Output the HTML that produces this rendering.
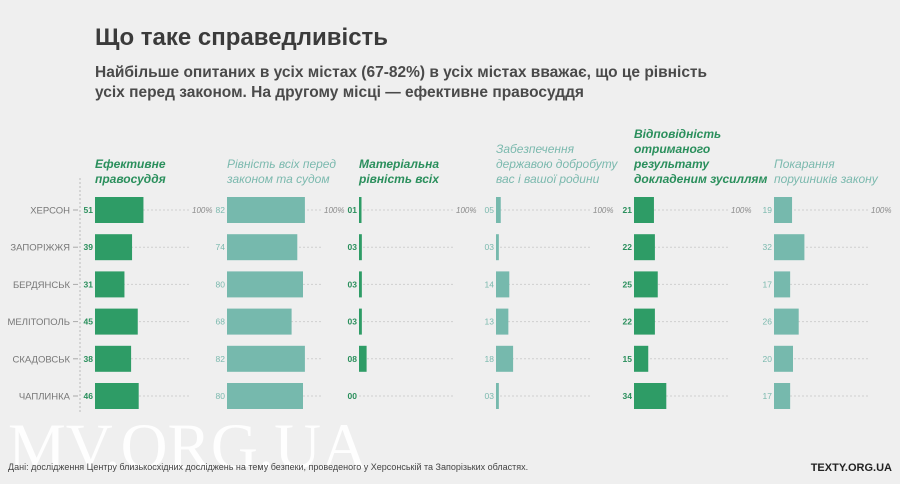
<!DOCTYPE html>
<html><head><meta charset="utf-8"><style>
body{margin:0;background:#efefef;width:900px;height:484px;overflow:hidden;font-family:"Liberation Sans",sans-serif}
svg{display:block}
</style></head><body>
<svg id="chart" width="900" height="484">
<rect width="900" height="484" fill="#efefef"/>
<text x="95" y="45" font-size="24" font-weight="bold" fill="#3b3b3b">Що таке справедливість</text>
<text x="95" y="77" font-size="15.5" font-weight="bold" fill="#4a4a4a">Найбільше опитаних в усіх містах (67-82%) в усіх містах вважає, що це рівність</text>
<text x="95" y="97" font-size="15.5" font-weight="bold" fill="#4a4a4a">усіх перед законом. На другому місці — ефективне правосуддя</text>
<text x="8" y="468" font-size="65" font-family="Liberation Serif, serif" fill="#ffffff" opacity="0.95">MV.ORG.UA</text>
<text x="8" y="470" font-size="9" fill="#444">Дані: дослідження Центру близькосхідних досліджень на тему безпеки, проведеного у Херсонській та Запорізьких областях.</text>
<text x="892" y="471" font-size="11" font-weight="bold" fill="#222" text-anchor="end">TEXTY.ORG.UA</text>
<line x1="80" y1="178" x2="80" y2="412" stroke="#bbb" stroke-dasharray="2,2"/>
<g id="g"></g>
</svg>
<script>
const cities=["ХЕРСОН","ЗАПОРІЖЖЯ","БЕРДЯНСЬК","МЕЛІТОПОЛЬ","СКАДОВСЬК","ЧАПЛИНКА"];
const categories=[["Ефективне","правосуддя"],["Рівність всіх перед","законом та судом"],["Матеріальна","рівність всіх"],["Забезпечення","державою добробуту","вас і вашої родини"],["Відповідність","отриманого","результату","докладеним зусиллям"],["Покарання","порушників закону"]];
const s1=[51,39,31,45,38,46];
const s2=[82,74,80,68,82,80];
const s3=[1,3,3,3,8,0];
const s4=[5,3,14,13,18,3];
const s5=[21,22,25,22,15,34];
const s6=[19,32,17,26,20,17];
const series=[s1,s2,s3,s4,s5,s6];
const dark=[true,false,true,false,true,false];
const NS="http://www.w3.org/2000/svg";
const g=document.getElementById('g');
const panelX=[95,227,359,496,634,774];
const xs=v=>v*0.95;
const ys=i=>210+i*37.2;
function mk(t,a){const e=document.createElementNS(NS,t);for(const k in a)e.setAttribute(k,a[k]);g.appendChild(e);return e;}
cities.forEach((c,i)=>{
 const t=mk('text',{x:70,y:ys(i)+3.5,'font-size':9.5,fill:'#777','text-anchor':'end'});t.textContent=c;
 
 
 const l=mk('line',{x1:73,x2:78,y1:ys(i),y2:ys(i),stroke:'#aaa'});
 
 
});
series.forEach((s,p)=>{
 const x0=panelX[p];const col=dark[p]?'#2e9c66':'#76b9ad';const tcol=dark[p]?'#2a8f5c':'#7bb9ae';
 const lines=categories[p];const lastY=183;
 lines.forEach((ln,k)=>{
  const t=mk('text',{x:x0,y:lastY-(lines.length-1-k)*15,'font-size':12,'font-style':'italic','font-weight':dark[p]?'bold':'normal',fill:tcol});
  t.textContent=ln;
  
  
 });
 s.forEach((v,i)=>{
  const y=ys(i);
  const d=mk('line',{x1:x0,x2:x0+xs(100),y1:y,y2:y,stroke:'#cfcfcf','stroke-dasharray':'2,2'});
  
  
  const w=v>0?Math.max(xs(v),2.5):0;
  const r=mk('rect',{x:x0,y:y-13,width:w,height:26,fill:col});
  
  
  const vt=mk('text',{x:x0-2,y:y+3,'font-size':8.5,'font-weight':dark[p]?'bold':'normal',fill:tcol,'text-anchor':'end'});
  vt.textContent=String(v).padStart(2,'0');
  
  
  if(i===0){
   const h=mk('text',{x:x0+xs(100)+2,y:y+3,'font-size':8,'font-style':'italic',fill:'#888'});
   h.textContent='100%';
   
   
  }
 });
});
</script>
</body></html>
